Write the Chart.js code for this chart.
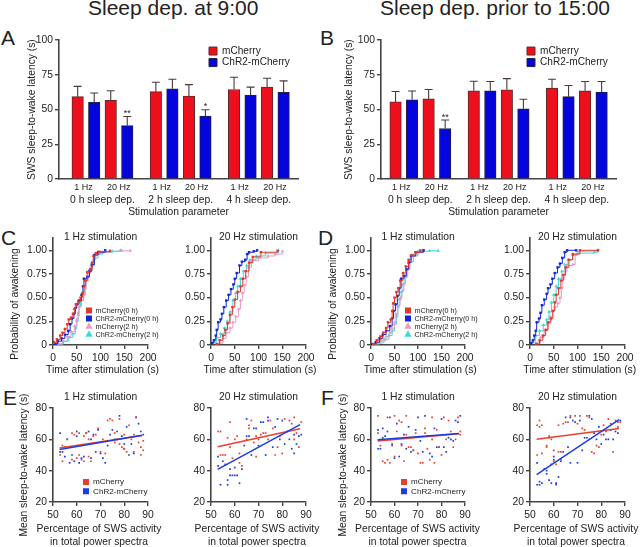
<!DOCTYPE html>
<html lang="en">
<head>
<meta charset="UTF-8">
<title>Sleep deprivation and SWS sleep-to-wake latency</title>
<script src="https://cdn.jsdelivr.net/npm/chart.js"></script>
<style>
    html, body { margin: 0; padding: 0; background: #fff; overflow: hidden; }
    #page { position: relative; width: 640px; height: 547px; overflow: hidden; font-family: "Liberation Sans", Arial, sans-serif; color: #222; }
    #page canvas { position: absolute; }
    .head { position: absolute; font-size: 21px; line-height: 21px; white-space: nowrap; }
</style>
</head>
<body>
<div id="page">
    <div class="head" style="left:88px;top:-3px">Sleep dep. at 9:00</div>
    <div class="head" style="left:380px;top:-3px">Sleep dep. prior to 15:00</div>
    <div class="head" style="left:1px;top:27px">A</div>
    <div class="head" style="left:320px;top:27px">B</div>
    <div class="head" style="left:1px;top:227px">C</div>
    <div class="head" style="left:318px;top:227px">D</div>
    <div class="head" style="left:3px;top:387px">E</div>
    <div class="head" style="left:321px;top:387px">F</div>
</div>
<script>
// bar charts: order is 0 h 1 Hz, 0 h 20 Hz, 2 h 1 Hz, 2 h 20 Hz, 4 h 1 Hz, 4 h 20 Hz
const hzLabels = ['1 Hz', '20 Hz'];
const groupLabels = ['0 h sleep dep.', '2 h sleep dep.', '4 h sleep dep.'];
const aRed = [59.3, 56.7, 62.9, 59.8, 64.5, 66.2];
const aRedTop = [66.7, 63.6, 69.7, 68, 73.3, 72.6];
const aBlue = [55.3, 38.5, 65, 45.4, 60.5, 62.4];
const aBlueTop = [62, 45, 71.9, 49.9, 66.2, 70.7];
const aBlueStars = ['', '**', '', '*', '', ''];
const bRed = [55.5, 57.7, 63.6, 64.3, 65.5, 63.6];
const bRedTop = [63, 64.5, 70.4, 72.3, 71.9, 70.2];
const bBlue = [57, 36.4, 63.6, 50.6, 59.3, 62.6];
const bBlueTop = [63.4, 42.5, 70.2, 57.4, 67.4, 70.2];
const bBlueStars = ['', '**', '', '', '', ''];

// awakening curves, time (s) and probability
const c1RedX = [2, 8, 15, 20, 25, 30, 33, 38, 42, 45, 48, 53, 58, 62, 65, 68, 72, 78, 82, 85, 90, 97, 120];
const c1RedY = [0.03, 0.06, 0.10, 0.13, 0.17, 0.22, 0.27, 0.29, 0.33, 0.38, 0.43, 0.46, 0.50, 0.55, 0.62, 0.68, 0.77, 0.80, 0.87, 0.94, 0.97, 0.985, 0.995];
const c1BlueX = [5, 10, 18, 25, 32, 36, 40, 44, 47, 50, 55, 60, 63, 65, 72, 77, 82, 87, 95, 110];
const c1BlueY = [0.01, 0.04, 0.07, 0.11, 0.15, 0.22, 0.28, 0.33, 0.39, 0.43, 0.47, 0.53, 0.62, 0.70, 0.72, 0.78, 0.85, 0.95, 0.98, 1];
const c1PinkX = [8, 20, 30, 38, 45, 50, 53, 55, 60, 65, 68, 70, 75, 80, 85, 90, 100, 120, 145, 163];
const c1PinkY = [0.01, 0.04, 0.09, 0.14, 0.20, 0.27, 0.34, 0.41, 0.47, 0.53, 0.60, 0.68, 0.76, 0.83, 0.90, 0.96, 0.98, 0.99, 0.995, 0.995];
const c1CyanX = [10, 22, 33, 42, 47, 50, 53, 55, 58, 64, 67, 70, 75, 80, 87, 95, 105, 125, 142];
const c1CyanY = [0.01, 0.04, 0.08, 0.12, 0.18, 0.25, 0.32, 0.40, 0.47, 0.54, 0.62, 0.70, 0.78, 0.84, 0.92, 0.96, 0.98, 0.99, 1];

const c2RedX = [12, 18, 25, 30, 35, 40, 45, 50, 56, 62, 67, 73, 80, 88, 105, 140];
const c2RedY = [0.01, 0.05, 0.10, 0.16, 0.23, 0.32, 0.40, 0.48, 0.56, 0.62, 0.70, 0.78, 0.87, 0.93, 0.98, 0.995];
const c2BlueX = [2, 6, 10, 12, 15, 20, 23, 27, 32, 37, 42, 47, 50, 54, 60, 65, 72, 76, 80, 90, 97];
const c2BlueY = [0.02, 0.05, 0.10, 0.16, 0.24, 0.27, 0.33, 0.40, 0.47, 0.53, 0.59, 0.64, 0.70, 0.76, 0.84, 0.88, 0.90, 0.96, 0.98, 0.99, 1];
const c2PinkX = [18, 25, 32, 40, 46, 52, 58, 62, 66, 70, 74, 79, 85, 100, 120, 135, 150];
const c2PinkY = [0.02, 0.07, 0.13, 0.18, 0.24, 0.30, 0.38, 0.47, 0.55, 0.63, 0.72, 0.82, 0.89, 0.92, 0.94, 0.96, 0.99];
const c2CyanX = [5, 12, 20, 28, 34, 40, 46, 52, 56, 62, 68, 75, 82, 95, 115, 142];
const c2CyanY = [0.03, 0.08, 0.12, 0.18, 0.25, 0.35, 0.47, 0.55, 0.62, 0.70, 0.78, 0.84, 0.90, 0.94, 0.97, 1];

const d1RedX = [5, 12, 20, 26, 32, 36, 42, 45, 47, 50, 54, 58, 62, 68, 74, 80, 86, 95, 105];
const d1RedY = [0.01, 0.05, 0.09, 0.13, 0.18, 0.24, 0.27, 0.36, 0.44, 0.50, 0.56, 0.60, 0.68, 0.76, 0.83, 0.90, 0.95, 0.98, 1];
const d1BlueX = [3, 10, 18, 25, 32, 40, 45, 48, 52, 56, 60, 64, 70, 75, 80, 85, 95, 112];
const d1BlueY = [0.01, 0.03, 0.07, 0.11, 0.15, 0.20, 0.28, 0.36, 0.43, 0.52, 0.60, 0.70, 0.73, 0.80, 0.87, 0.94, 0.98, 1];
const d1PinkX = [10, 22, 32, 40, 45, 50, 53, 57, 62, 66, 70, 74, 78, 83, 90, 100, 110];
const d1PinkY = [0.02, 0.05, 0.09, 0.13, 0.18, 0.24, 0.33, 0.42, 0.50, 0.57, 0.65, 0.72, 0.80, 0.88, 0.94, 0.98, 1];
const d1CyanX = [8, 18, 28, 38, 45, 50, 54, 57, 60, 64, 68, 72, 76, 82, 90, 100, 125, 143];
const d1CyanY = [0.01, 0.03, 0.06, 0.10, 0.15, 0.22, 0.30, 0.40, 0.48, 0.56, 0.64, 0.72, 0.80, 0.88, 0.95, 0.99, 0.995, 0.995];

const d2RedX = [13, 20, 27, 33, 38, 44, 48, 52, 55, 60, 65, 70, 75, 82, 90, 105, 143];
const d2RedY = [0.01, 0.05, 0.10, 0.16, 0.24, 0.28, 0.36, 0.45, 0.53, 0.60, 0.68, 0.74, 0.82, 0.90, 0.96, 1, 1];
const d2BlueX = [2, 6, 9, 12, 14, 19, 22, 25, 30, 35, 38, 43, 47, 52, 58, 63, 68, 73, 78, 97];
const d2BlueY = [0.02, 0.05, 0.10, 0.15, 0.24, 0.28, 0.34, 0.42, 0.48, 0.54, 0.60, 0.64, 0.70, 0.76, 0.82, 0.86, 0.92, 0.98, 1, 1];
const d2PinkX = [15, 22, 30, 37, 42, 47, 52, 58, 63, 66, 69, 73, 78, 90, 95, 100, 143];
const d2PinkY = [0.02, 0.08, 0.15, 0.22, 0.30, 0.36, 0.40, 0.44, 0.50, 0.60, 0.70, 0.78, 0.84, 0.85, 0.95, 0.99, 1];
const d2CyanX = [5, 12, 20, 28, 35, 40, 45, 50, 55, 60, 67, 73, 80, 90, 100, 135, 143];
const d2CyanY = [0.03, 0.10, 0.15, 0.21, 0.27, 0.35, 0.45, 0.53, 0.62, 0.70, 0.78, 0.85, 0.90, 0.95, 0.97, 0.98, 1];

// scatter panels, SWS percentage and latency
const e1Red = [[53,50],[54,46],[54,56],[56,60],[58,64],[59,63],[60,48],[61,50],[62,47],[63,46],[63,62],[64,64],[65,60],[66,46],[67,62],[68,63],[69,67],[70,52],[71,60],[72,51],[73,72],[74,73],[75,72],[76,58],[77,60],[78,73],[78,57],[79,55],[80,54],[80,63],[81,52],[82,69],[83,60],[84,52],[85,74],[86,58],[87,50],[87,55],[88,53],[88,59],[84,63],[76,64],[58,47],[65,49],[55,55],[61,64]];
const e1Blue = [[53,64],[53,52],[54,52],[55,49],[56,60],[57,45],[58,50],[59,46],[60,65],[60,62],[61,45],[62,48],[63,49],[64,64],[65,65],[66,60],[67,63],[68,52],[69,66],[70,51],[71,48],[72,45],[73,56],[75,66],[76,60],[77,65],[78,75],[79,62],[80,57],[81,68],[82,50],[83,57],[84,51],[85,74],[86,70],[87,65],[88,63],[80,54],[74,63],[66,48]];
const e2Red = [[53,65],[54,65],[54,50],[55,50],[56,50],[57,61],[58,71],[58,55],[59,48],[60,60],[61,62],[62,45],[62,51],[63,43],[65,60],[66,69],[67,72],[66,67],[68,58],[69,62],[70,60],[71,63],[72,64],[73,64],[74,60],[75,72],[76,67],[77,50],[78,55],[79,62],[80,51],[81,73],[82,65],[83,72],[84,70],[85,74],[86,64],[87,55],[88,71],[85,60],[69,49]];
const e2Blue = [[53,49],[53,43],[54,31],[55,46],[56,44],[57,34],[57,31],[58,41],[58,37],[59,37],[60,42],[60,37],[61,37],[62,32],[63,41],[64,56],[65,73],[66,62],[67,50],[68,67],[69,67],[70,56],[71,71],[72,71],[73,50],[74,74],[74,72],[76,55],[77,68],[78,73],[79,60],[80,72],[81,57],[82,65],[83,60],[84,54],[85,51],[85,63],[86,57],[87,62],[88,63],[65,62]];
const f1Red = [[53,75],[53,64],[54,56],[55,46],[56,45],[57,47],[57,74],[58,45],[59,56],[60,75],[60,49],[61,65],[62,72],[63,71],[63,56],[64,46],[65,63],[65,75],[66,55],[67,55],[68,53],[69,64],[70,51],[71,45],[72,45],[73,67],[73,64],[74,54],[75,47],[76,74],[76,60],[77,45],[78,66],[79,55],[80,50],[81,74],[82,60],[83,72],[84,65],[85,55],[86,60],[87,74],[88,65],[88,63],[58,60]];
const f1Blue = [[53,66],[53,54],[54,54],[55,67],[56,62],[57,65],[58,74],[59,57],[60,48],[61,70],[62,49],[63,57],[64,63],[65,54],[66,68],[67,52],[68,53],[69,66],[70,74],[71,59],[72,52],[73,75],[74,62],[75,51],[76,49],[77,67],[78,55],[79,55],[80,73],[81,55],[82,52],[83,61],[84,60],[85,59],[86,72],[87,71],[88,75],[55,61]];
const f2Red = [[53,69],[53,50],[54,68],[54,72],[55,69],[55,51],[57,55],[57,56],[58,61],[58,62],[59,60],[60,46],[60,53],[61,44],[62,69],[62,52],[63,52],[63,47],[64,70],[65,71],[66,71],[67,75],[69,75],[70,70],[71,75],[72,67],[73,66],[74,75],[75,74],[75,60],[76,52],[77,51],[78,56],[79,55],[80,63],[81,69],[82,65],[83,73],[84,70],[85,52],[86,72],[87,71],[87,68],[88,71]];
const f2Blue = [[53,45],[53,31],[54,33],[54,31],[55,32],[56,41],[57,40],[57,38],[58,34],[59,44],[59,32],[60,49],[60,47],[61,32],[61,31],[62,36],[63,46],[64,52],[65,74],[66,55],[67,74],[67,45],[68,72],[69,71],[70,45],[71,72],[72,53],[73,61],[74,61],[75,75],[76,73],[77,64],[78,60],[79,68],[80,57],[81,63],[82,60],[83,60],[84,66],[85,60],[86,65],[87,64],[88,72]];

// fitted lines, [x, y] at both ends
const e1RedFit = [[52.8,54.4],[87.5,62.4]];
const e1BlueFit = [[52.8,53.5],[87.5,62.6]];
const e2RedFit = [[52.8,55.2],[87.5,66.7]];
const e2BlueFit = [[52.8,40.8],[87.5,69.4]];
const f1RedFit = [[52.8,59],[87.5,63.5]];
const f1BlueFit = [[52.8,59.7],[87.5,63.7]];
const f2RedFit = [[52.8,60],[87.5,66.9]];
const f2BlueFit = [[52.8,37.4],[87.5,72.6]];

const FONT = '"Liberation Sans", Arial, sans-serif';
const TEXT = '#222';
const AXIS = '#444';
const RED = '#ee0f1c';
const BLUE = '#0404dc';
Chart.defaults.font.family = FONT;
Chart.defaults.font.size = 10.3;
Chart.defaults.color = TEXT;
Chart.defaults.animation = false;

// moves title and legend to page positions, draws error bars and the axis
// labels that are wider than their plot (a scale title would be squeezed)
Chart.register({
    id: 'panelExtras',
    afterLayout(chart, args, opts) {
        const ox = chart.canvas.offsetLeft, oy = chart.canvas.offsetTop;
        if (opts.titleY != null) {
            const t = chart.titleBlock, h = t.bottom - t.top;
            t.top = opts.titleY - oy;
            t.bottom = t.top + h;
            t.left = chart.chartArea.left;
            t.right = chart.chartArea.right;
        }
        if (opts.legendX != null) {
            const lg = chart.legend, pad = lg.options.labels.padding;
            const w = lg.right - lg.left, h = lg.bottom - lg.top;
            lg.left = opts.legendX - ox - pad;
            lg.right = lg.left + w;
            lg.top = opts.legendY - oy - pad;
            lg.bottom = lg.top + h;
        }
    },
    afterDatasetsDraw(chart, args, opts) {
        const ctx = chart.ctx, ox = chart.canvas.offsetLeft, oy = chart.canvas.offsetTop;
        const sx = chart.scales.x, sy = chart.scales.y;
        chart.data.datasets.forEach(ds => {
            if (!ds.errorTops) return;
            ds.data.forEach((p, i) => {
                const x = sx.getPixelForValue(p.x), y0 = sy.getPixelForValue(p.y), y1 = sy.getPixelForValue(ds.errorTops[i]);
                ctx.save();
                ctx.strokeStyle = '#4a3a3a';
                ctx.lineWidth = 1.1;
                ctx.beginPath();
                ctx.moveTo(x, y0);
                ctx.lineTo(x, y1);
                ctx.moveTo(x - 4, y1);
                ctx.lineTo(x + 4, y1);
                ctx.stroke();
                if (ds.stars && ds.stars[i]) {
                    ctx.fillStyle = TEXT;
                    ctx.font = '9px ' + FONT;
                    ctx.textAlign = 'center';
                    ctx.fillText(ds.stars[i], x, y1 - 0.5);
                }
                ctx.restore();
            });
        });
        (opts.texts || []).forEach(t => {
            ctx.save();
            ctx.translate(t.x - ox, t.y - oy);
            if (t.side) ctx.rotate(-Math.PI / 2);
            ctx.fillStyle = TEXT;
            ctx.font = '10.3px ' + FONT;
            ctx.textAlign = 'center';
            ctx.textBaseline = 'middle';
            ctx.fillText(t.text, 0, 0);
            ctx.restore();
        });
    }
});

function addCanvas(box, gut) {
    const c = document.createElement('canvas');
    c.width = box.r - box.l + gut.L + gut.R;
    c.height = box.b - box.t + gut.T + gut.B;
    c.style.left = (box.l - gut.L) + 'px';
    c.style.top = (box.t - gut.T) + 'px';
    document.getElementById('page').appendChild(c);
    return c;
}

function axisBase(size) {
    return {
        border: { color: AXIS, width: 1.6 },
        grid: { drawOnChartArea: false, color: AXIS, lineWidth: 1.4, tickLength: 4 },
        afterFit(scale) {
            if (scale.isHorizontal()) scale.height = size; else scale.width = size;
        }
    };
}

function points(xs, ys) {
    return xs.map((x, i) => ({ x: x, y: ys[i] }));
}
function pairs(list) {
    return list.map(p => ({ x: p[0], y: p[1] }));
}

// bar slot along the axis, two frequencies with two bars each in a group
const GROUP_STEP = 4.73;
function slot(k, series) {
    return Math.floor(k / 2) * GROUP_STEP + (k % 2) * 2 + series;
}

function barPanel(box, gutL, xMin, red, redTop, blue, blueTop, stars, legendX, legendY) {
    const canvas = addCanvas(box, { L: gutL, T: 6, R: 6, B: 42 });
    const hzTicks = [], hzText = [], groupTicks = [];
    groupLabels.forEach((g, i) => {
        hzTicks.push(i * GROUP_STEP + 0.35, i * GROUP_STEP + 2.48);
        hzText.push(hzLabels[0], hzLabels[1]);
        groupTicks.push(i * GROUP_STEP + 1.5);
    });
    const xMax = 13.33;
    return new Chart(canvas, {
        type: 'bar',
        data: {
            datasets: [
                { label: 'mCherry', data: red.map((v, k) => ({ x: slot(k, 0), y: v })), errorTops: redTop, backgroundColor: RED, borderColor: '#5c2a2a', borderWidth: 1, barThickness: 11.5, grouped: false },
                { label: 'ChR2-mCherry', data: blue.map((v, k) => ({ x: slot(k, 1), y: v })), errorTops: blueTop, stars: stars, backgroundColor: BLUE, borderColor: '#222244', borderWidth: 1, barThickness: 11.5, grouped: false }
            ]
        },
        options: {
            responsive: false,
            layout: { padding: { top: 6, right: 6 } },
            plugins: {
                title: { display: false },
                legend: {
                    position: 'chartArea', align: 'start',
                    labels: { boxWidth: 8, boxHeight: 8, padding: 1.4, font: { size: 10.1, lineHeight: 1 } }
                },
                panelExtras: { legendX: legendX, legendY: legendY }
            },
            scales: {
                x: Object.assign(axisBase(14), {
                    type: 'linear', min: xMin, max: xMax, offset: false,
                    grid: { display: false, drawTicks: false },
                    afterBuildTicks(s) { s.ticks = hzTicks.map(v => ({ value: v })); },
                    ticks: { padding: 3, autoSkip: false, maxRotation: 0, font: { size: 9 }, callback: (v, i) => hzText[i] }
                }),
                x2: Object.assign(axisBase(28), {
                    type: 'linear', position: 'bottom', weight: 1, min: xMin, max: xMax, offset: false,
                    border: { display: false },
                    grid: { display: false, drawTicks: false },
                    afterBuildTicks(s) { s.ticks = groupTicks.map(v => ({ value: v })); },
                    ticks: { padding: 1, autoSkip: false, maxRotation: 0, callback: (v, i) => groupLabels[i] },
                    title: { display: true, text: 'Stimulation parameter', font: { size: 10.3, lineHeight: 1 }, padding: { top: 0, bottom: 4 } }
                }),
                y: Object.assign(axisBase(gutL), {
                    min: 0, max: 100,
                    ticks: { stepSize: 25, padding: 2 },
                    title: { display: true, text: 'SWS sleep-to-wake latency (s)', font: { size: 10.3, lineHeight: 1 }, padding: 0 }
                })
            }
        }
    });
}

function curve(label, xs, ys, color, style, radius) {
    return {
        label: label, data: points(xs, ys), showLine: true, stepped: true,
        borderColor: color, backgroundColor: color, borderWidth: 1,
        pointStyle: style, pointRadius: radius, pointBorderWidth: 0, pointBackgroundColor: color
    };
}

function curvePanel(box, gutL, title, series, legendAt, texts) {
    const canvas = addCanvas(box, { L: gutL, T: 14, R: 20, B: 31 });
    const names = ['mCherry(0 h)', 'ChR2-mCherry(0 h)', 'mCherry(2 h)', 'ChR2-mCherry(2 h)'];
    const colors = ['#e2372a', '#1228d2', '#e99cc4', '#3cdada'];
    const styles = ['rect', 'rect', 'triangle', 'triangle'];
    const radii = [1.7, 1.7, 2, 2];
    return new Chart(canvas, {
        type: 'scatter',
        data: { datasets: series.map((s, i) => curve(names[i], s[0], s[1], colors[i], styles[i], radii[i])) },
        options: {
            responsive: false,
            layout: { padding: { top: 14 - 10.3, right: 20 } },
            plugins: {
                title: { display: true, text: title, padding: 0, font: { size: 10.3, weight: 'normal', lineHeight: 1 }, color: TEXT },
                legend: legendAt ? {
                    position: 'chartArea', align: 'start',
                    labels: { usePointStyle: true, boxWidth: 6, boxHeight: 6, padding: 0.8, font: { size: 7.2, lineHeight: 1 } }
                } : { display: false },
                panelExtras: Object.assign({ titleY: box.titleY, texts: texts }, legendAt ? { legendX: legendAt[0], legendY: legendAt[1] } : {})
            },
            scales: {
                x: Object.assign(axisBase(31), {
                    min: 0, max: 200,
                    ticks: { stepSize: 50, padding: 3, maxRotation: 0 }
                }),
                y: Object.assign(axisBase(gutL), {
                    min: 0, max: 1.13,
                    ticks: { stepSize: 0.25, padding: 2, includeBounds: false, callback: v => (v === 0 ? '0' : v.toFixed(2)) }
                })
            }
        }
    });
}

function fitLine(label, fit, color) {
    return { label: label, data: pairs(fit), showLine: true, borderColor: color, borderWidth: 1.5, pointRadius: 0, backgroundColor: color };
}
function dots(label, list, color) {
    return { label: label, data: pairs(list), backgroundColor: color, borderColor: color, pointStyle: 'rect', pointRadius: 1.2, pointBorderWidth: 0 };
}

function scatterPanel(box, gutL, title, red, blue, redFit, blueFit, legendAt, texts) {
    const canvas = addCanvas(box, { L: gutL, T: 22, R: 20, B: 45 });
    const redC = '#e8402e', blueC = '#1c3ce6';
    return new Chart(canvas, {
        type: 'scatter',
        data: {
            datasets: [
                fitLine('ChR2-mCherry fit', blueFit, blueC),
                fitLine('mCherry fit', redFit, redC),
                dots('mCherry', red, redC),
                dots('ChR2-mCherry', blue, blueC)
            ]
        },
        options: {
            responsive: false,
            layout: { padding: { top: 22 - 10.3, right: 20 } },
            plugins: {
                title: { display: true, text: title, padding: 0, font: { size: 10.3, weight: 'normal', lineHeight: 1 }, color: TEXT },
                legend: legendAt ? {
                    position: 'chartArea', align: 'start',
                    labels: {
                        usePointStyle: true, boxWidth: 6, boxHeight: 6, padding: 1.2, font: { size: 8.1, lineHeight: 1 },
                        filter: item => !item.text.endsWith('fit')
                    }
                } : { display: false },
                panelExtras: Object.assign({ titleY: box.titleY, texts: texts }, legendAt ? { legendX: legendAt[0], legendY: legendAt[1] } : {})
            },
            scales: {
                x: Object.assign(axisBase(45), {
                    min: 50, max: 90,
                    ticks: { stepSize: 10, padding: 3, maxRotation: 0 }
                }),
                y: Object.assign(axisBase(gutL), {
                    min: 20, max: 80,
                    ticks: { stepSize: 20, padding: 2 }
                })
            }
        }
    });
}

function timeTexts(x, sideX) {
    const list = [{ text: 'Time after stimulation (s)', x: x, y: 370.5 }];
    if (sideX != null) list.push({ text: 'Probability of awakening', x: sideX, y: 304, side: true });
    return list;
}
function sweepTexts(x, sideX) {
    const list = [
        { text: 'Percentage of SWS activity', x: x, y: 529 },
        { text: 'in total power spectra', x: x, y: 541.7 }
    ];
    if (sideX != null) list.push({ text: 'Mean sleep-to-wake latency (s)', x: sideX, y: 465, side: true });
    return list;
}

barPanel({ l: 59, t: 38, r: 298, b: 179 }, 32, -1.13, aRed, aRedTop, aBlue, aBlueTop, aBlueStars, 209, 46);
barPanel({ l: 381, t: 38, r: 616, b: 179 }, 37, -0.88, bRed, bRedTop, bBlue, bBlueTop, bBlueStars, 527, 46);

curvePanel({ l: 53, t: 238, r: 148, b: 345, titleY: 232 }, 44, '1 Hz stimulation',
    [[c1RedX, c1RedY], [c1BlueX, c1BlueY], [c1PinkX, c1PinkY], [c1CyanX, c1CyanY]], [86, 307], timeTexts(102.5, 15));
curvePanel({ l: 211, t: 238, r: 306, b: 345, titleY: 232 }, 30, '20 Hz stimulation',
    [[c2RedX, c2RedY], [c2BlueX, c2BlueY], [c2PinkX, c2PinkY], [c2CyanX, c2CyanY]], null, timeTexts(260));
curvePanel({ l: 371, t: 238, r: 465, b: 345, titleY: 232 }, 44, '1 Hz stimulation',
    [[d1RedX, d1RedY], [d1BlueX, d1BlueY], [d1PinkX, d1PinkY], [d1CyanX, d1CyanY]], [405, 307], timeTexts(420.3, 333));
curvePanel({ l: 530, t: 238, r: 625, b: 345, titleY: 232 }, 30, '20 Hz stimulation',
    [[d2RedX, d2RedY], [d2BlueX, d2BlueY], [d2PinkX, d2PinkY], [d2CyanX, d2CyanY]], null, timeTexts(579.7));

scatterPanel({ l: 53, t: 408, r: 148, b: 502, titleY: 392 }, 40, '1 Hz stimulation', e1Red, e1Blue, e1RedFit, e1BlueFit, [83, 478], sweepTexts(99, 24));
scatterPanel({ l: 211, t: 408, r: 306, b: 502, titleY: 392 }, 30, '20 Hz stimulation', e2Red, e2Blue, e2RedFit, e2BlueFit, null, sweepTexts(257));
scatterPanel({ l: 371, t: 408, r: 465, b: 502, titleY: 392 }, 40, '1 Hz stimulation', f1Red, f1Blue, f1RedFit, f1BlueFit, [401, 478], sweepTexts(417.5, 343));
scatterPanel({ l: 530, t: 408, r: 625, b: 502, titleY: 392 }, 30, '20 Hz stimulation', f2Red, f2Blue, f2RedFit, f2BlueFit, null, sweepTexts(576));
</script>
</body>
</html>
